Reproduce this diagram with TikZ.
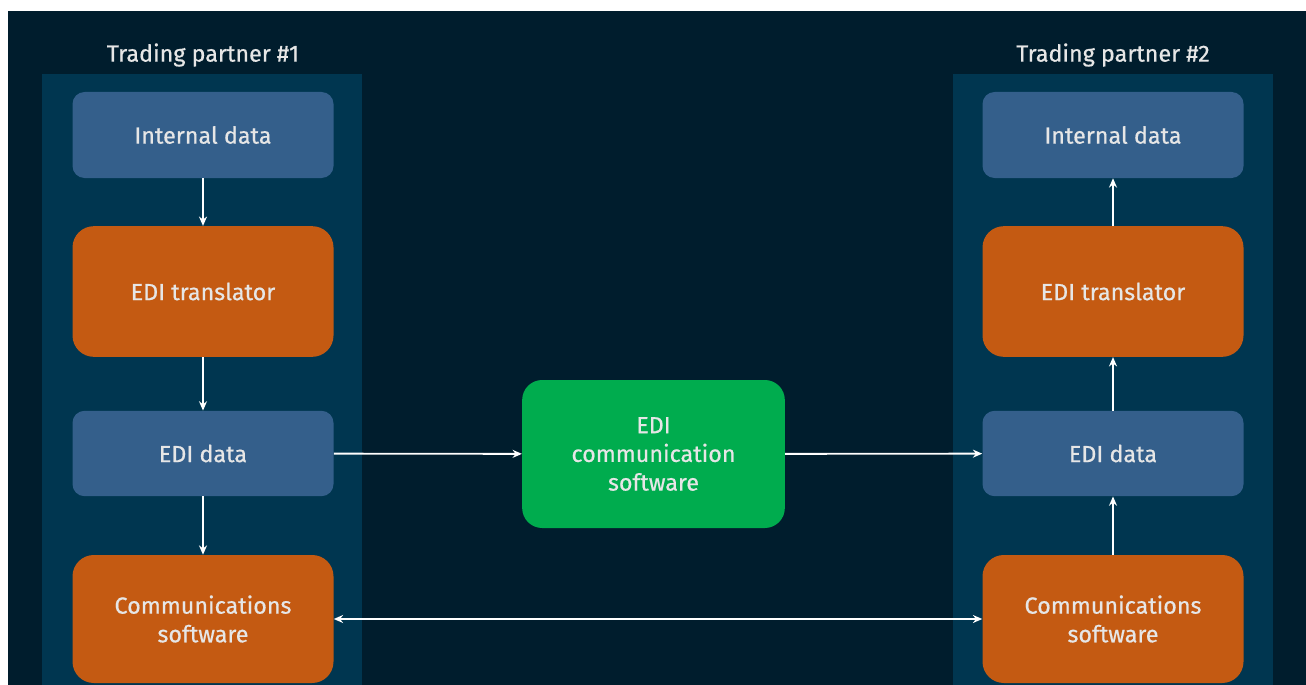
\documentclass[tikz,border=0pt]{standalone}
\usepackage{fontspec}
\setmainfont{Fira Sans}
\newfontfamily\medfont{Fira Sans}[FakeBold=0.6]
\usetikzlibrary{arrows.meta, positioning}

\definecolor{bgdark}{HTML}{001D2D}
\definecolor{panelblue}{HTML}{003650}
\definecolor{datablue}{HTML}{345F8B}
\definecolor{edioran}{HTML}{C45A12}
\definecolor{commgreen}{HTML}{00AC4E}
\definecolor{txtlight}{HTML}{E6E6E6}

\tikzset{
  databox/.style={fill=datablue, rounded corners=9pt, minimum width=195.75pt,
    text=txtlight, font=\medfont\fontsize{17.5}{21.5}\selectfont, align=center},
  procbox/.style={fill=edioran, rounded corners=16pt, minimum width=195.75pt,
    text=txtlight, font=\medfont\fontsize{17.5}{21.5}\selectfont, align=center},
  flow/.style={draw=white, line width=1.4pt, -{Stealth[length=7pt,width=6pt]}},
  title/.style={text=txtlight, font=\medfont\fontsize{17.5}{21.5}\selectfont}
}

\begin{document}
\begin{tikzpicture}[x=0.75pt, y=-0.75pt]
  \useasboundingbox (0,0) rectangle (1306,685);
  \fill[white] (0,0) rectangle (1306,685);
  \fill[bgdark] (8,11) rectangle (1306,685); % dark frame
  \fill[panelblue] (42,74) rectangle (362,685);
  \fill[panelblue] (953,74) rectangle (1273,685);

  \node[title] (tp1) at (203,55) {Trading partner \#1};
  \node[title] (tp2) at (1113,55) {Trading partner \#2};

  % partner 1
  \node[databox, minimum height=64.5pt] (intA) at (203,135) {Internal data};
  \node[procbox, minimum height=98pt] (transA) at (203,291.5) {EDI translator};
  \node[databox, minimum height=64pt] (ediA) at (203,453.5) {EDI data};
  \node[procbox, minimum height=96pt] (commA) at (203,619) {Communications\\software};

  % partner 2
  \node[databox, minimum height=64.5pt] (intB) at (1113,135) {Internal data};
  \node[procbox, minimum height=98pt] (transB) at (1113,291.5) {EDI translator};
  \node[databox, minimum height=64pt] (ediB) at (1113,453.5) {EDI data};
  \node[procbox, minimum height=96pt] (commB) at (1113,619) {Communications\\software};

  \node[procbox, fill=commgreen, rounded corners=15pt, minimum width=197pt,
    minimum height=111pt] (van) at (653.5,454) {EDI\\communication\\software};

  \draw[flow] (intA) -- (transA);
  \draw[flow] (transA) -- (ediA);
  \draw[flow] (ediA) -- (commA);
  \draw[flow] (ediA) -- (van);
  \draw[flow] (van) -- (ediB);
  \draw[flow] (commB) -- (ediB);
  \draw[flow] (ediB) -- (transB);
  \draw[flow] (transB) -- (intB);
  \draw[flow, {Stealth[length=7pt,width=6pt]}-{Stealth[length=7pt,width=6pt]}] (commA) -- (commB);
\end{tikzpicture}
\end{document}
